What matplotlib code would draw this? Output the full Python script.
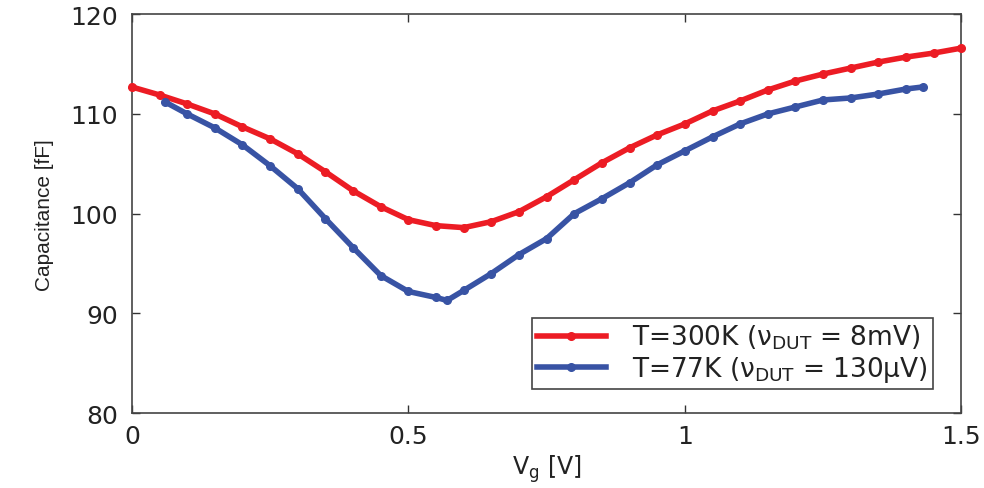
import matplotlib
matplotlib.use("Agg")
import matplotlib.pyplot as plt

plt.rcParams["font.family"] = ["DejaVu Sans"]
plt.rcParams["mathtext.default"] = "regular"

# T=300K curve
vg_300 = [0.00, 0.05, 0.10, 0.15, 0.20, 0.25, 0.30, 0.35, 0.40, 0.45, 0.50,
          0.55, 0.60, 0.65, 0.70, 0.75, 0.80, 0.85, 0.90, 0.95, 1.00,
          1.05, 1.10, 1.15, 1.20, 1.25, 1.30, 1.35, 1.40, 1.45, 1.50]
cap_300 = [112.7, 111.9, 111.0, 110.0, 108.7, 107.5, 106.0, 104.2, 102.3, 100.7, 99.4,
           98.8, 98.6, 99.2, 100.2, 101.7, 103.4, 105.1, 106.6, 107.9, 109.0,
           110.3, 111.3, 112.4, 113.3, 114.0, 114.6, 115.2, 115.7, 116.1, 116.6]

# T=77K curve
vg_77 = [0.06, 0.10, 0.15, 0.20, 0.25, 0.30, 0.35, 0.40, 0.45, 0.50, 0.55,
         0.57, 0.60, 0.65, 0.70, 0.75, 0.80, 0.85, 0.90, 0.95, 1.00,
         1.05, 1.10, 1.15, 1.20, 1.25, 1.30, 1.35, 1.40, 1.43]
cap_77 = [111.2, 110.0, 108.6, 106.9, 104.8, 102.5, 99.5, 96.6, 93.8, 92.2, 91.6,
          91.3, 92.3, 94.0, 95.9, 97.5, 100.0, 101.5, 103.1, 104.9, 106.3,
          107.7, 109.0, 110.0, 110.7, 111.4, 111.6, 112.0, 112.5, 112.7]

label_300 = "T=300K (ν$_{DUT}$ = 8mV)"
label_77 = "T=77K (ν$_{DUT}$ = 130μV)"

fig = plt.figure(figsize=(9.84, 4.89), dpi=100)
ax = fig.add_axes([0.134, 0.153, 0.843, 0.816])

ax.plot(vg_300, cap_300, color="#ec1c24", lw=4, marker="o", ms=5.5,
        label=label_300, clip_on=False, zorder=3)
ax.plot(vg_77, cap_77, color="#3853a4", lw=4, marker="o", ms=5.5,
        label=label_77, clip_on=False, zorder=3)

ax.set_xlim(0, 1.5)
ax.set_ylim(80, 120)
ax.set_xticks([0, 0.5, 1, 1.5])
ax.set_xticklabels(["0", "0.5", "1", "1.5"])
ax.set_yticks([80, 90, 100, 110, 120])

ax.tick_params(direction="in", length=6, width=1, top=True, right=True,
               labelsize=18, color="#333333", labelcolor="#222222")
ax.tick_params(axis="y", pad=10)
ax.tick_params(axis="x", pad=8)
for s in ax.spines.values():
    s.set_color("#444444")
    s.set_linewidth(1.2)

ax.set_xlabel("V$_g$ [V]", fontsize=17, labelpad=3, color="#222222")
ax.set_ylabel("Capacitance [fF]", fontsize=15, labelpad=12, color="#222222",
              family="Liberation Sans")

leg = ax.legend(loc="lower right", fontsize=19, fancybox=False, framealpha=1,
                edgecolor="#444444", handlelength=2.6, handletextpad=1.0,
                borderpad=0.2, labelspacing=0.1, borderaxespad=0,
                bbox_to_anchor=(0.966, 0.06))
leg.get_frame().set_linewidth(1.2)
for t in leg.get_texts():
    t.set_color("#222222")

plt.savefig("out.png", dpi=100)
plt.close()
